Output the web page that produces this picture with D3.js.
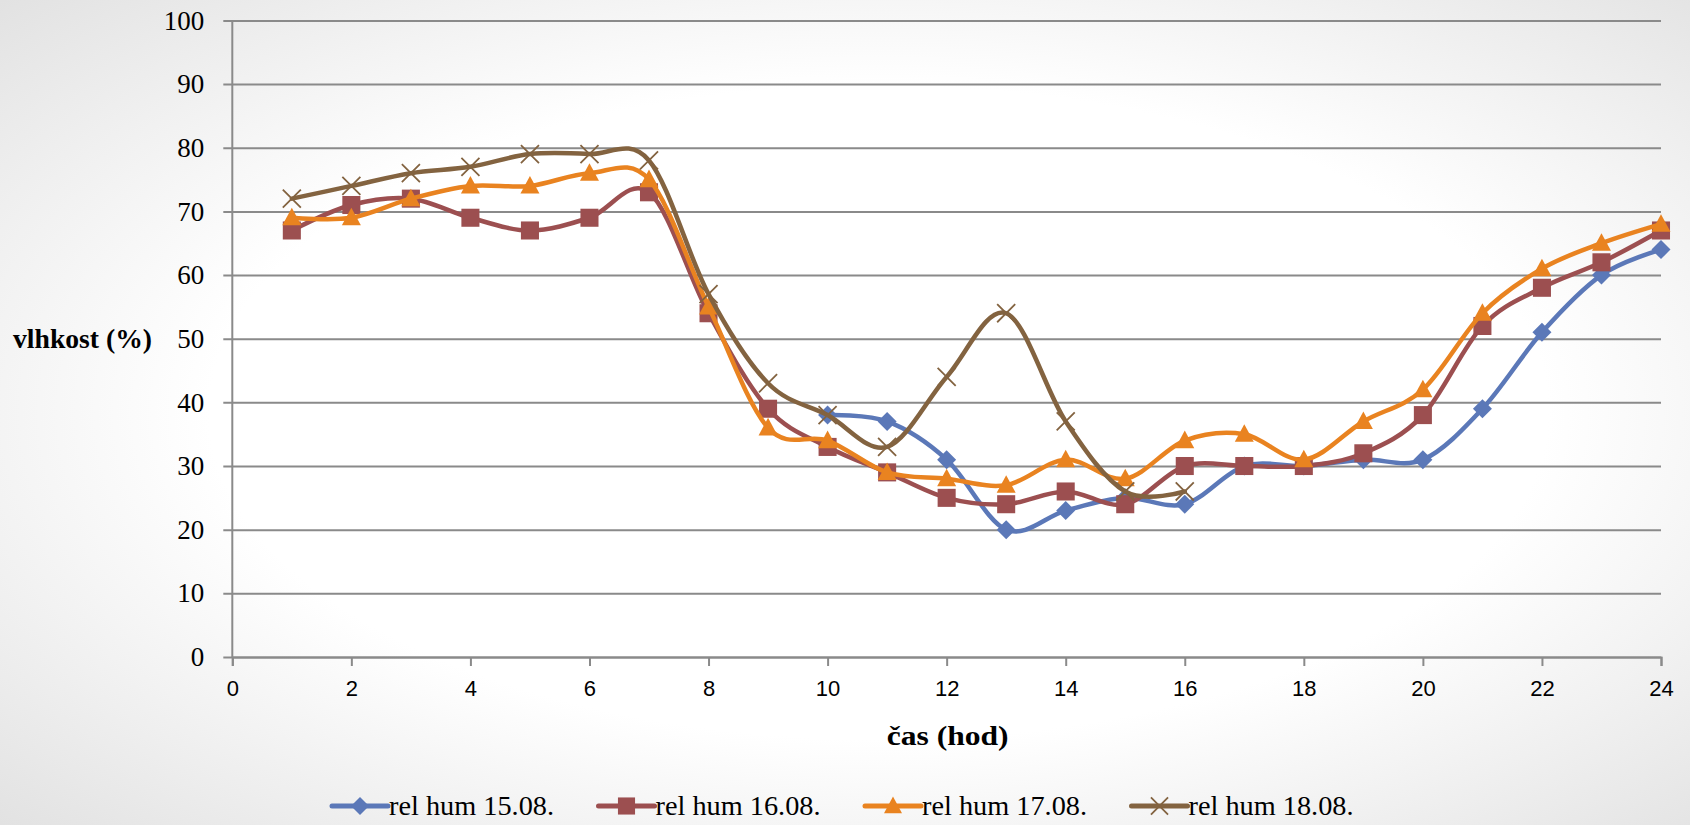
<!DOCTYPE html>
<meta charset="utf-8">
<style>
body { margin: 0; }
svg { display: block; }
.tickY text { font: 27px "Liberation Serif", serif; fill: #000; }
.tickX text { font: 22px "Liberation Sans", Arial, sans-serif; fill: #000; }
.title { font: bold 27px "Liberation Serif", serif; fill: #000; }
.legend text { font: 27px "Liberation Serif", serif; fill: #000; }
</style>
<script src="https://d3js.org/d3.v7.min.js"></script>
<div id="chart"></div>
<script>
// hours of the day
var hours = [1, 2, 3, 4, 5, 6, 7, 8, 9, 10, 11, 12, 13, 14, 15, 16, 17, 18, 19, 20, 21, 22, 23, 24];

// relative humidity (%) per day
var hum1508 = [null, null, null, null, null, null, null, null, null, 38, 37, 31, 20, 23, 25, 24, 30, 30, 31, 31, 39, 51, 60, 64];
var hum1608 = [67, 71, 72, 69, 67, 69, 73, 54, 39, 33, 29, 25, 24, 26, 24, 30, 30, 30, 32, 38, 52, 58, 62, 67];
var hum1708 = [69, 69, 72, 74, 74, 76, 75, 55, 36, 34, 29, 28, 27, 31, 28, 34, 35, 31, 37, 42, 54, 61, 65, 68];
var hum1808 = [72, 74, 76, 77, 79, 79, 78, 57, 43, 38, 33, 44, 54, 37, 26, 26, null, null, null, null, null, null, null, null];

var seriesNames = ["rel hum 15.08.", "rel hum 16.08.", "rel hum 17.08.", "rel hum 18.08."];
var xTicks = [0, 2, 4, 6, 8, 10, 12, 14, 16, 18, 20, 22, 24];
var yTicks = [0, 10, 20, 30, 40, 50, 60, 70, 80, 90, 100];

var W = 1690, H = 825;
var margin = {top: 20.4, right: 29, bottom: 168, left: 232.3};
var width = W - margin.left - margin.right,
    height = H - margin.top - margin.bottom;

var colors = ["#5b78b8", "#9c4f50", "#e98320", "#836340"];
var shapes = ["diamond", "square", "triangle", "cross"];
var gridColor = "#8a8a8a";

var svg = d3.select("#chart").append("svg")
  .attr("width", W)
  .attr("height", H);

// slide background
var defs = svg.append("defs");
var grad = defs.append("radialGradient")
  .attr("id", "bg")
  .attr("cx", "52%").attr("cy", "50%").attr("r", "72%");
grad.append("stop").attr("offset", "0").attr("stop-color", "#ffffff");
grad.append("stop").attr("offset", "0.55").attr("stop-color", "#ffffff");
grad.append("stop").attr("offset", "1").attr("stop-color", "#e2e2e2");
svg.append("rect").attr("width", W).attr("height", H).attr("fill", "url(#bg)");

var g = svg.append("g")
  .attr("transform", "translate(" + margin.left + "," + margin.top + ")");

var x = d3.scaleLinear().domain([0, 24]).range([0, width]);
var y = d3.scaleLinear().domain([0, 100]).range([height, 0]);

// ---------- Y axis + gridlines ----------
var yAxis = g.append("g")
  .attr("class", "tickY")
  .call(d3.axisLeft(y).tickValues(yTicks).tickSizeInner(-width).tickSizeOuter(0).tickPadding(28));
yAxis.select(".domain").remove();
yAxis.selectAll(".tick line")
  .attr("x1", -9)
  .attr("x2", width)
  .attr("stroke", gridColor)
  .attr("stroke-width", 2);
yAxis.selectAll(".tick text").attr("dy", "0.32em");

// y axis line
g.append("line")
  .attr("x1", 0).attr("x2", 0)
  .attr("y1", 0).attr("y2", height)
  .attr("stroke", gridColor)
  .attr("stroke-width", 2);

// ---------- X axis ----------
var xAxis = g.append("g")
  .attr("class", "tickX")
  .attr("transform", "translate(0," + height + ")")
  .call(d3.axisBottom(x).tickValues(xTicks).tickSize(9).tickPadding(14));
xAxis.select(".domain")
  .attr("stroke", gridColor)
  .attr("stroke-width", 2);
xAxis.selectAll(".tick line")
  .attr("stroke", gridColor)
  .attr("stroke-width", 2);

// axis titles (widths matched to the original Palatino text)
svg.append("text")
  .attr("class", "title")
  .attr("x", 13)
  .attr("y", 348)
  .attr("textLength", 139)
  .attr("lengthAdjust", "spacingAndGlyphs")
  .text("vlhkost (%)");

svg.append("text")
  .attr("class", "title")
  .attr("text-anchor", "middle")
  .attr("x", margin.left + width / 2 + 1)
  .attr("y", 745)
  .attr("textLength", 122)
  .attr("lengthAdjust", "spacingAndGlyphs")
  .text("čas (hod)");

// ---------- markers ----------
function drawMarker(sel, shape, color, cx, cy, s) {
  if (shape === "diamond") {
    sel.append("path")
      .attr("d", "M" + cx + "," + (cy - s) + "L" + (cx + s) + "," + cy + "L" + cx + "," + (cy + s) + "L" + (cx - s) + "," + cy + "Z")
      .attr("fill", color);
  } else if (shape === "square") {
    sel.append("rect")
      .attr("x", cx - s * 0.95).attr("y", cy - s * 0.95)
      .attr("width", s * 1.9).attr("height", s * 1.9)
      .attr("fill", color);
  } else if (shape === "triangle") {
    sel.append("path")
      .attr("d", "M" + cx + "," + (cy - s * 1.05) + "L" + (cx + s) + "," + (cy + s * 0.8) + "L" + (cx - s) + "," + (cy + s * 0.8) + "Z")
      .attr("fill", color);
  } else {
    var c = s * 0.95;
    sel.append("path")
      .attr("d", "M" + (cx - c) + "," + (cy - c) + "L" + (cx + c) + "," + (cy + c) + "M" + (cx + c) + "," + (cy - c) + "L" + (cx - c) + "," + (cy + c))
      .attr("stroke", color)
      .attr("stroke-width", 1.8)
      .attr("fill", "none");
  }
}

// ---------- lines ----------
var allSeries = [hum1508, hum1608, hum1708, hum1808];

var line = d3.line()
  .defined(function(d) { return d[1] != null; })
  .x(function(d) { return x(d[0]); })
  .y(function(d) { return y(d[1]); })
  .curve(d3.curveCatmullRom.alpha(0));

allSeries.forEach(function(vals, i) {
  var pts = hours.map(function(h, j) { return [h, vals[j]]; });
  var sg = g.append("g");
  sg.append("path")
    .datum(pts)
    .attr("d", line)
    .attr("fill", "none")
    .attr("stroke", colors[i])
    .attr("stroke-width", 4.5)
    .attr("stroke-linejoin", "round")
    .attr("stroke-linecap", "round");
  pts.forEach(function(p) {
    if (p[1] == null) return;
    drawMarker(sg, shapes[i], colors[i], x(p[0]), y(p[1]), 9.5);
  });
});

// ---------- legend ----------
var legend = svg.append("g").attr("class", "legend");
var legendX = 332, legendStep = 266.5, legendY = 806;
seriesNames.forEach(function(name, i) {
  var lx = legendX + i * legendStep;
  var item = legend.append("g");
  item.append("line")
    .attr("x1", lx).attr("x2", lx + 56)
    .attr("y1", legendY).attr("y2", legendY)
    .attr("stroke", colors[i])
    .attr("stroke-width", 5)
    .attr("stroke-linecap", "round");
  drawMarker(item, shapes[i], colors[i], lx + 28, legendY, 9);
  item.append("text")
    .attr("x", lx + 57)
    .attr("y", legendY + 9)
    .attr("textLength", 165)
    .attr("lengthAdjust", "spacingAndGlyphs")
    .text(name);
});
</script>
